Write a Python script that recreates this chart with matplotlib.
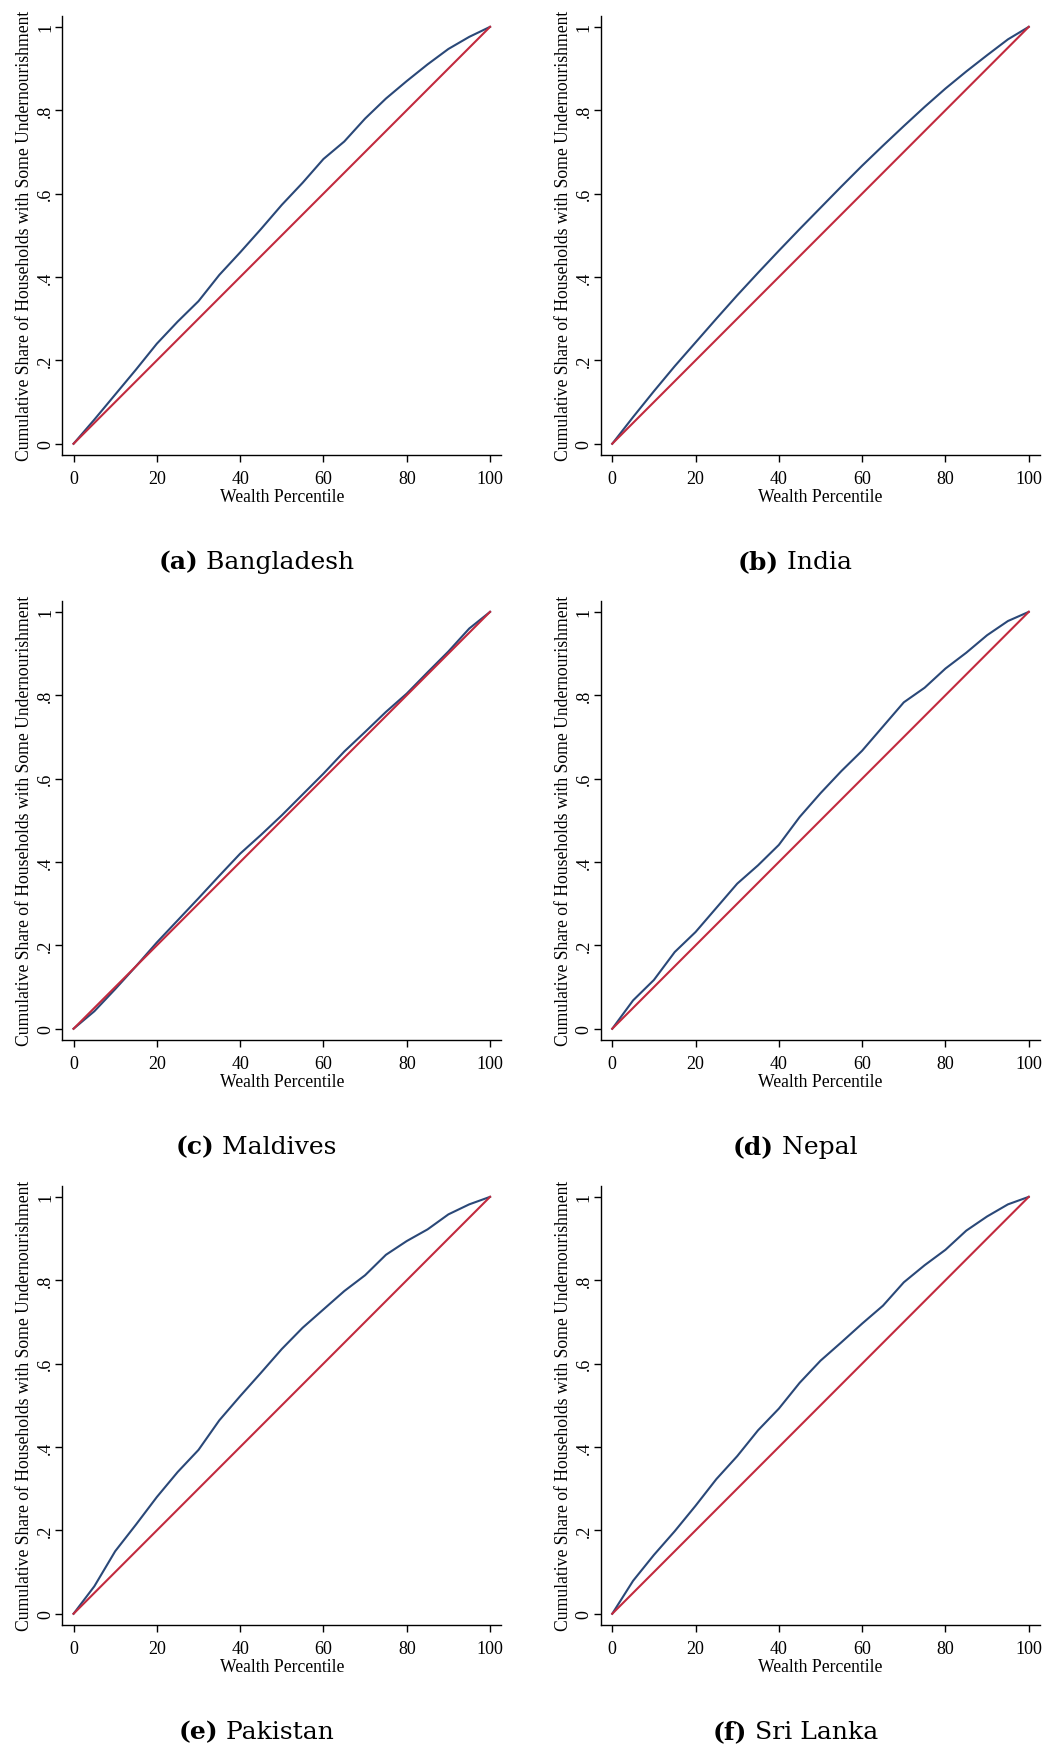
import matplotlib
matplotlib.use("Agg")
import matplotlib.pyplot as plt

# wealth percentiles at 5-point steps
percentile = [0, 5, 10, 15, 20, 25, 30, 35, 40, 45, 50,
              55, 60, 65, 70, 75, 80, 85, 90, 95, 100]

# cumulative share of households with some undernourishment
bangladesh = [0, 0.058, 0.118, 0.178, 0.240, 0.293, 0.342, 0.405, 0.459, 0.515, 0.573,
              0.626, 0.683, 0.725, 0.780, 0.828, 0.870, 0.910, 0.947, 0.976, 1.0]
india = [0, 0.064, 0.126, 0.186, 0.243, 0.300, 0.356, 0.410, 0.463, 0.515, 0.566,
         0.617, 0.667, 0.715, 0.762, 0.808, 0.852, 0.893, 0.932, 0.970, 1.0]
maldives = [0, 0.042, 0.095, 0.150, 0.207, 0.260, 0.313, 0.367, 0.420, 0.465, 0.512,
            0.562, 0.612, 0.665, 0.712, 0.760, 0.804, 0.855, 0.905, 0.960, 1.0]
nepal = [0, 0.068, 0.117, 0.184, 0.232, 0.290, 0.348, 0.392, 0.441, 0.508, 0.565,
         0.618, 0.667, 0.725, 0.783, 0.818, 0.864, 0.902, 0.944, 0.978, 1.0]
pakistan = [0, 0.066, 0.150, 0.214, 0.280, 0.340, 0.393, 0.464, 0.522, 0.578, 0.635,
            0.686, 0.730, 0.774, 0.812, 0.861, 0.894, 0.922, 0.958, 0.982, 1.0]
sri_lanka = [0, 0.079, 0.141, 0.198, 0.259, 0.323, 0.378, 0.440, 0.492, 0.554, 0.607,
             0.651, 0.696, 0.739, 0.795, 0.836, 0.873, 0.919, 0.953, 0.982, 1.0]

letters = ["a", "b", "c", "d", "e", "f"]
countries = ["Bangladesh", "India", "Maldives", "Nepal", "Pakistan", "Sri Lanka"]
curves = [bangladesh, india, maldives, nepal, pakistan, sri_lanka]

x_ticks = [0, 20, 40, 60, 80, 100]
y_ticks = [0, 0.2, 0.4, 0.6, 0.8, 1.0]
y_tick_labels = ["0", ".2", ".4", ".6", ".8", "1"]

NAVY = "#2a4878"
RED = "#c22a3e"

W, H = 1048, 1749
fig = plt.figure(figsize=(W / 100, H / 100), dpi=100)
renderer = fig.canvas.get_renderer()

lefts = [62.3, 601]
bottoms = [456, 1041, 1626]
ax_w, ax_h = 439, 439.4

for i, (letter, name, share) in enumerate(zip(letters, countries, curves)):
    row, col = divmod(i, 2)
    left = lefts[col]
    bottom = bottoms[row]
    ax = fig.add_axes([left / W, 1 - bottom / H, ax_w / W, ax_h / H])

    ax.plot(percentile, share, color=NAVY, lw=1.5, solid_joinstyle="round")
    ax.plot([0, 100], [0, 1], color=RED, lw=1.5)

    ax.set_xlim(-2.7, 102.7)
    ax.set_ylim(-0.027, 1.027)
    for side in ["top", "right"]:
        ax.spines[side].set_visible(False)
    for side in ["left", "bottom"]:
        ax.spines[side].set_linewidth(1.0)

    ax.set_xticks(x_ticks)
    ax.set_yticks(y_ticks)
    ax.set_yticklabels(y_tick_labels, rotation=90, va="center")
    ax.tick_params(length=5, width=1.0, labelsize=13)
    ax.tick_params(axis="x", pad=5.5)
    ax.tick_params(axis="y", pad=1.0)
    for lab in ax.get_xticklabels() + ax.get_yticklabels():
        lab.set_family("Liberation Serif")

    ax.set_xlabel("Wealth Percentile", family="Liberation Serif",
                  fontsize=12.7, labelpad=1)
    ax.set_ylabel("Cumulative Share of Households with Some Undernourishment",
                  family="Liberation Serif", fontsize=12.7, labelpad=3)

    # caption under each panel: bold letter followed by country name, centred as a whole
    cy = 1 - (bottom + 113.3) / H
    tag = fig.text(0, cy, f"({letter})", family="DejaVu Serif", fontsize=18,
                   fontweight="bold", ha="left", va="baseline")
    label = fig.text(0, cy, f" {name}", family="DejaVu Serif", fontsize=18,
                     ha="left", va="baseline")
    w_tag = tag.get_window_extent(renderer).width
    w_label = label.get_window_extent(renderer).width
    start = left + 194 - (w_tag + w_label) / 2
    tag.set_x(start / W)
    label.set_x((start + w_tag) / W)

fig.savefig("out.png", dpi=100, facecolor="white")
